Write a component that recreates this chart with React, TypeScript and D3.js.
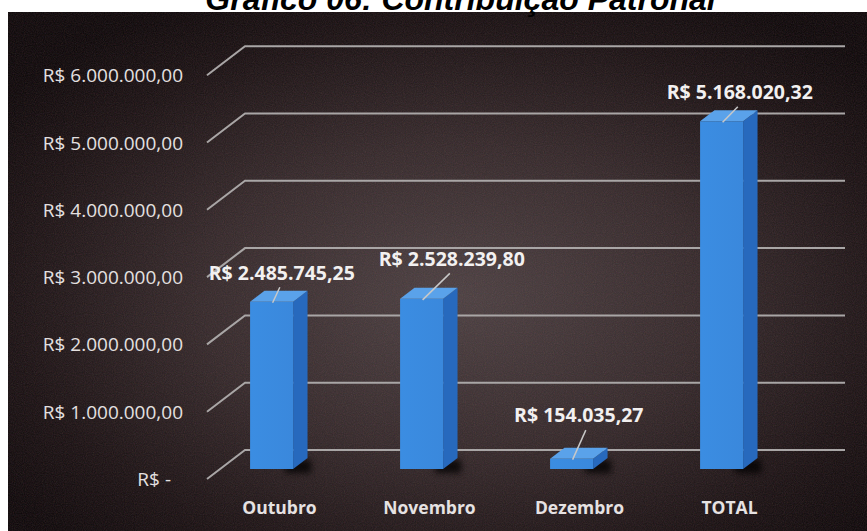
import React from 'react';
import * as d3 from 'd3';

const title = 'Gráfico 06: Contribuição Patronal';
const categories = ['Outubro', 'Novembro', 'Dezembro', 'TOTAL'];
const values = [2485745.25, 2528239.8, 154035.27, 5168020.32];
const valueLabels = ['R$ 2.485.745,25', 'R$ 2.528.239,80', 'R$ 154.035,27', 'R$ 5.168.020,32'];
const yTicks = [0, 1000000, 2000000, 3000000, 4000000, 5000000, 6000000];
const yTickLabels = ['R$ -', 'R$ 1.000.000,00', 'R$ 2.000.000,00', 'R$ 3.000.000,00', 'R$ 4.000.000,00', 'R$ 5.000.000,00', 'R$ 6.000.000,00'];
// manual label placement (offset from bar top centre) and leader end offsets
const labelOffsets: [number, number][] = [[3, -24], [23, -35], [0, -39], [11, -24]];
const leaderEnds: [number, number][] = [[-2, 15], [-2, 15], [7, 16], [-2, 15]];

const W = 867;
const H = 531;
const FLOOR_Y = 479;
const DX = 38;
const DY = 29;
const WALL_X = 207;
const GRID_END = 845;
const Z0 = 0.345;
const Z1 = 0.724;

export default function App() {
  const y = d3.scaleLinear().domain([0, 6000000]).range([0, 403.8]);
  const x = d3
    .scaleBand<string>()
    .domain(categories)
    .range([183.5, 783.5])
    .paddingInner(0.713)
    .paddingOuter(0.3565);
  const bw = x.bandwidth();
  const P = (px: number, v: number, z: number): [number, number] => [px + z * DX, FLOOR_Y - y(v) - z * DY];
  const pts = (arr: [number, number][]) => arr.map((p) => p.join(',')).join(' ');

  return (
    <svg width={W} height={H} style={{ position: 'absolute', left: 0, top: 0 }}>
      <defs>
        <radialGradient id="bg" cx="52%" cy="55%" r="65%">
          <stop offset="0%" stopColor="#4a4141" />
          <stop offset="45%" stopColor="#322929" />
          <stop offset="80%" stopColor="#161010" />
          <stop offset="100%" stopColor="#090606" />
        </radialGradient>
        <linearGradient id="front" x1="0" x2="1" y1="0" y2="0">
          <stop offset="0%" stopColor="#3b8de2" />
          <stop offset="100%" stopColor="#3a88dc" />
        </linearGradient>
        <filter id="blur" x="-50%" y="-50%" width="200%" height="200%">
          <feGaussianBlur stdDeviation="3" />
        </filter>
        <filter id="noise" x="0" y="0" width="100%" height="100%">
          <feTurbulence type="fractalNoise" baseFrequency="0.9" numOctaves="2" seed="3" />
          <feColorMatrix type="matrix" values="0.6 0 0 0 0  0 0.3 0 0 0  0 0 0.4 0 0  0 0 0 0.22 0" />
        </filter>
      </defs>
      <rect x={0} y={0} width={W} height={H} fill="#ffffff" />
      <rect x={8} y={12} width={W - 8} height={H - 12} fill="url(#bg)" />
      <rect x={8} y={12} width={W - 8} height={H - 12} filter="url(#noise)" />
      <text
        x={460.5}
        y={10}
        textAnchor="middle"
        fontFamily="'Liberation Sans', Arial, sans-serif"
        fontWeight="bold"
        fontStyle="italic"
        fontSize={32}
        fill="#000"
      >
        {title}
      </text>

      {yTicks.map((t, i) => {
        const a = P(WALL_X, t, 0);
        const b = P(WALL_X, t, 1);
        return (
          <g key={t}>
            <polyline
              points={pts([a, b, [GRID_END, b[1]]])}
              fill="none"
              stroke="#a9a6a6"
              strokeWidth={2}
            />
            <text
              x={t === 0 ? 171 : 183}
              y={a[1]}
              textAnchor="end"
              dominantBaseline="central"
              fontFamily="'Open Sans', sans-serif"
              fontSize={19}
              fill="#e4e0e0"
            >
              {yTickLabels[i]}
            </text>
          </g>
        );
      })}

      {categories.map((c, i) => {
        const x0 = x(c)!;
        const x1 = x0 + bw;
        const base = P(x1, 0, Z0);
        return (
          <rect
            key={'sh' + c}
            x={base[0] - 8}
            y={base[1] - 9}
            width={26}
            height={13}
            fill="#000"
            opacity={0.75}
            filter="url(#blur)"
          />
        );
      })}

      {categories.map((c, i) => {
        const x0 = x(c)!;
        const x1 = x0 + bw;
        const v = values[i];
        const front = [P(x0, 0, Z0), P(x1, 0, Z0), P(x1, v, Z0), P(x0, v, Z0)];
        const side = [P(x1, 0, Z0), P(x1, 0, Z1), P(x1, v, Z1), P(x1, v, Z0)];
        const top = [P(x0, v, Z0), P(x1, v, Z0), P(x1, v, Z1), P(x0, v, Z1)];
        return (
          <g key={c}>
            <polygon points={pts(side)} fill="#2769bd" />
            <polygon points={pts(front)} fill="url(#front)" />
            <polygon points={pts(top)} fill="#5aa2ea" />
          </g>
        );
      })}

      {categories.map((c, i) => {
        const x0 = x(c)!;
        const v = values[i];
        const topC = P(x0 + bw / 2, v, (Z0 + Z1) / 2);
        const frontTop = P(x0 + bw / 2, v, Z0);
        const lx = topC[0] + labelOffsets[i][0];
        const ly = topC[1] + labelOffsets[i][1];
        return (
          <g key={'lab' + c}>
            <line
              x1={frontTop[0] + 1}
              y1={frontTop[1] + 1}
              x2={lx + leaderEnds[i][0]}
              y2={ly + leaderEnds[i][1]}
              stroke="#c8c8c8"
              strokeWidth={1.5}
            />
            <text
              x={lx}
              y={ly}
              textAnchor="middle"
              dominantBaseline="central"
              fontFamily="'Open Sans', sans-serif"
              fontWeight="bold"
              fontSize={19.5}
              fill="#f2f0f0"
            >
              {valueLabels[i]}
            </text>
            <text
              x={x0 + bw / 2 + 21}
              y={507}
              textAnchor="middle"
              dominantBaseline="central"
              fontFamily="'Open Sans', sans-serif"
              fontWeight="bold"
              fontSize={17.5}
              fill="#e6e2e2"
            >
              {c}
            </text>
          </g>
        );
      })}
    </svg>
  );
}
